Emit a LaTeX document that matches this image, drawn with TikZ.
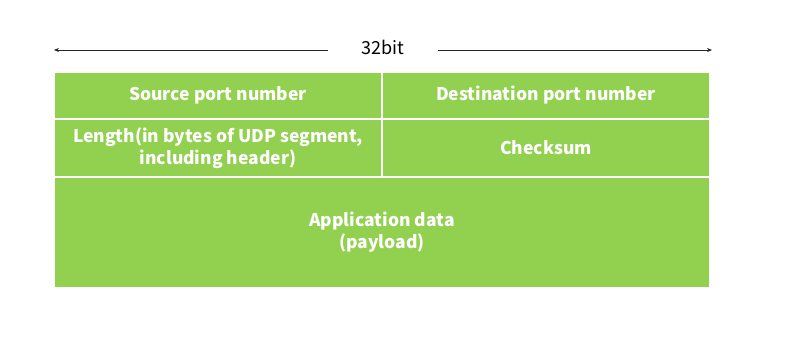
\documentclass[tikz,border=0pt]{standalone}
\usepackage{fontspec}
\setmainfont{Noto Sans CJK KR}
\usetikzlibrary{arrows.meta,positioning}
\definecolor{udpgreen}{RGB}{146,208,80}

\begin{document}
\begin{tikzpicture}[
  x=1pt, y=-1pt,
  font=\fontsize{18}{22}\selectfont,
  cell/.style={draw=white, line width=1.6pt, fill=udpgreen, align=center,
              text=white, font=\fontsize{17.5}{22}\selectfont\bfseries,
              inner sep=0pt, minimum height=#1},
  half/.style={cell=#1, minimum width=328},
  full/.style={cell=#1, minimum width=656},
  arr/.style={-{Stealth[length=5pt,width=4pt]}, line width=0.7pt, black!85}
]
\useasboundingbox (0,0) rectangle (791,342);

% width label
\node[minimum width=110, inner sep=0pt] (bits) at (383,47) {32bit};
\coordinate (lend) at (54,50);
\coordinate (rend) at (712,50);
\draw[arr] (bits.west |- lend) -- (lend);
\draw[arr] (bits.east |- rend) -- (rend);

% header fields
\node[half=47] (src) at (218,95.5) {Source port number};
\node[half=47] (dst) at (546,95.5) {Destination port number};
\node[half=58] (len) at (218,148) {Length(in bytes of UDP segment,\\including header)};
\node[half=58] (chk) at (546,148) {Checksum};

% payload
\node[full=111] (data) at (382,232.5) {Application data\\(payload)};
\end{tikzpicture}
\end{document}
